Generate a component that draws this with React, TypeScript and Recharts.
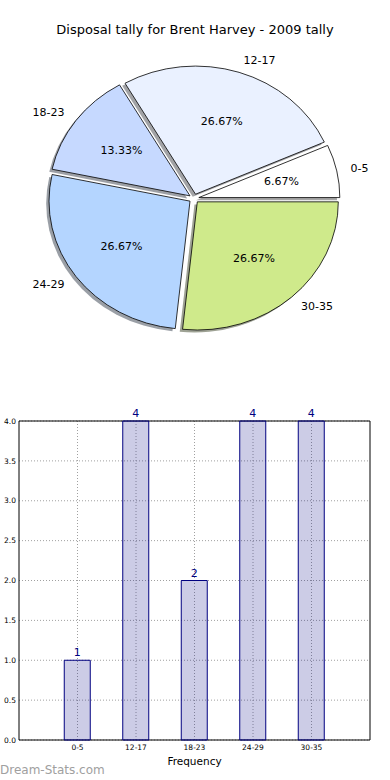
import React from "react";
import {
  PieChart, Pie, BarChart, Bar, XAxis, YAxis, CartesianGrid, LabelList, ReferenceArea,
} from "recharts";

const categories = ["0-5", "12-17", "18-23", "24-29", "30-35"];
const tallies = [1, 4, 2, 4, 4];
const sliceColors = ["#ffffff", "#eaf1ff", "#c6d9ff", "#b4d5ff", "#cfea8b"];
const yTicks = [0, 0.5, 1, 1.5, 2, 2.5, 3, 3.5, 4];
const xTicks = [1, 2, 3, 4, 5];

const total = tallies.reduce((a, b) => a + b, 0);
const pieData = categories.map((name, i) => ({ name, value: tallies[i], fill: sliceColors[i] }));
const barData = categories.map((name, i) => ({ x: i + 1, name, value: tallies[i] }));

const RY = 0.909; // vertical squash of the matplotlib axes
const EXPLODE = 0.035;
const RAD = Math.PI / 180;

function pt(cx: number, cy: number, r: number, d: number, ang: number) {
  return [cx + d * r * Math.cos(ang * RAD), cy - d * r * RY * Math.sin(ang * RAD)];
}

function wedgePath(cx: number, cy: number, r: number, a0: number, a1: number) {
  const [x0, y0] = pt(cx, cy, r, 1, a0);
  const [x1, y1] = pt(cx, cy, r, 1, a1);
  const large = Math.abs(a1 - a0) > 180 ? 1 : 0;
  return `M${cx},${cy} L${x0},${y0} A${r},${r * RY} 0 ${large} 0 ${x1},${y1} Z`;
}

function darken(hex: string, f: number) {
  const n = parseInt(hex.slice(1), 16);
  const r = Math.round(((n >> 16) & 255) * f);
  const g = Math.round(((n >> 8) & 255) * f);
  const b = Math.round((n & 255) * f);
  return `rgb(${r},${g},${b})`;
}

const WedgeShape = (props: any) => {
  const { cx, cy, outerRadius, startAngle, endAngle, midAngle, fill, shadow } = props;
  const mid = midAngle ?? (startAngle + endAngle) / 2;
  const [ox, oy] = pt(0, 0, outerRadius, EXPLODE, mid);
  let sx = 0, sy = 0;
  if (shadow) {
    sx = -0.02 * outerRadius;
    sy = 0.02 * outerRadius * RY;
  }
  const d = wedgePath(cx + ox + sx, cy + oy + sy, outerRadius, startAngle, endAngle);
  if (shadow) {
    return <path d={d} fill={darken(fill, 0.3)} fillOpacity={0.5} stroke="none" />;
  }
  return <path d={d} fill={fill} stroke="#000" strokeWidth={0.8} />;
};

const ShadowShape = (props: any) => <WedgeShape {...props} shadow />;

const renderLabels = (props: any) => {
  const { cx, cy, outerRadius, midAngle, name, value } = props;
  const [lx, ly] = pt(cx, cy, outerRadius, 1.1 + EXPLODE, midAngle);
  const [px, py] = pt(cx, cy, outerRadius, 0.6 + EXPLODE, midAngle);
  const right = Math.cos(midAngle * RAD) > 0;
  const pct = ((value / total) * 100).toFixed(2) + "%";
  return (
    <g>
      <text x={lx} y={ly} textAnchor={right ? "start" : "end"} dominantBaseline="central"
        fontSize={11} fill="#000" fontFamily="DejaVu Sans">{name}</text>
      <text x={px} y={py} textAnchor="middle" dominantBaseline="central"
        fontSize={11} fill="#000" fontFamily="DejaVu Sans">{pct}</text>
    </g>
  );
};

export default function App() {
  return (
    <div style={{ position: "absolute", left: 0, top: 0, width: 390, height: 780, background: "#fff", fontFamily: "DejaVu Sans" }}>
      <div style={{ position: "absolute", left: 0, top: 21, width: 390, textAlign: "center", fontSize: 13, color: "#000", fontFamily: "DejaVu Sans", lineHeight: "18px" }}>
        Disposal tally for Brent Harvey - 2009 tally
      </div>
      <div style={{ position: "absolute", left: 0, top: 0 }}>
        <PieChart width={390} height={360} margin={{ top: 0, right: 0, bottom: 0, left: 0 }}>
          <Pie data={pieData} dataKey="value" nameKey="name" cx={194} cy={198.5} outerRadius={141}
            startAngle={0} endAngle={360} isAnimationActive={false} shape={ShadowShape} stroke="none" />
          <Pie data={pieData} dataKey="value" nameKey="name" cx={194} cy={198.5} outerRadius={141}
            startAngle={0} endAngle={360} isAnimationActive={false} shape={WedgeShape}
            label={renderLabels} labelLine={false} />
        </PieChart>
      </div>
      <div style={{ position: "absolute", left: 0, top: 400 }}>
        <BarChart width={390} height={380} data={barData} margin={{ top: 21, right: 20, bottom: 15, left: 0 }}>
          <CartesianGrid stroke="#a0a0a0" strokeDasharray="1 2" horizontalValues={yTicks} verticalValues={xTicks} />
          <XAxis type="number" dataKey="x" domain={[0, 6]} ticks={xTicks} allowDecimals={false}
            tickFormatter={(v: number) => categories[v - 1] ?? ""} tickLine={false} axisLine={false}
            tickSize={0} tickMargin={5} height={25} tick={{ fontSize: 7.5, fill: "#000", fontFamily: "DejaVu Sans" }}
            label={{ value: "Frequency", position: "insideBottom", offset: 0, fontSize: 10.5, fill: "#000", fontFamily: "DejaVu Sans" }} />
          <YAxis type="number" domain={[0, 4]} ticks={yTicks} width={19} tickLine={false} axisLine={false}
            tickSize={0} tickMargin={3} tickFormatter={(v: number) => v.toFixed(1)}
            tick={{ fontSize: 7.5, fill: "#000", fontFamily: "DejaVu Sans" }} />
          <Bar dataKey="value" barSize={26} fill="#000080" fillOpacity={0.2} stroke="#000080" strokeWidth={1} isAnimationActive={false}>
            <LabelList dataKey="value" position="top" offset={4} fill="#000080" fontSize={11} fontFamily="DejaVu Sans" />
          </Bar>
          <ReferenceArea x1={0} x2={6} y1={0} y2={4} fill="none" stroke="#000" strokeWidth={1} ifOverflow="visible" />
        </BarChart>
      </div>
      <div style={{ position: "absolute", left: 0, top: 762, fontSize: 12, color: "#a0a0a0", fontFamily: "DejaVu Sans", fontWeight: 400, lineHeight: "16px" }}>
        Dream-Stats.com
      </div>
    </div>
  );
}
